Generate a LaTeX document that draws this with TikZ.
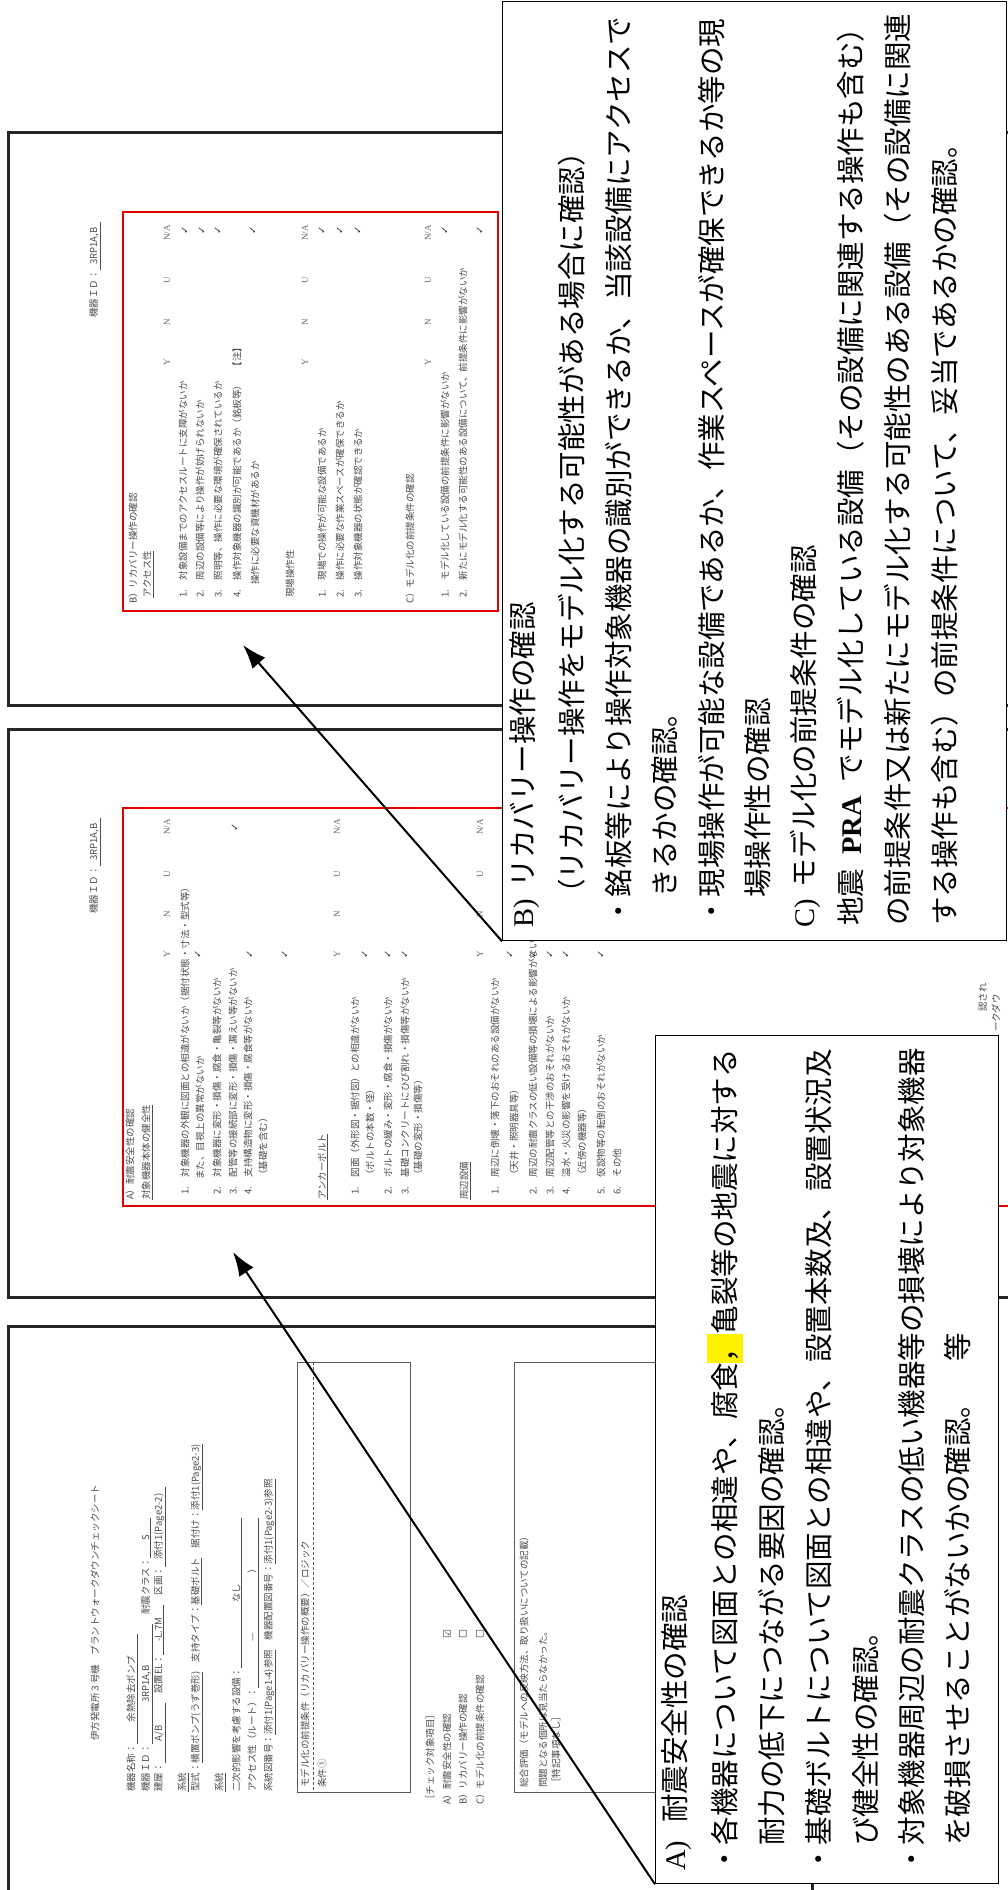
\documentclass[tikz,border=0pt]{standalone}
\usepackage{fontspec}
\setmainfont{Liberation Serif}
\newfontfamily\jp{Noto Sans CJK JP}
\newfontfamily\dv{DejaVu Sans}
\usetikzlibrary{arrows.meta}
\newcommand\fld[2]{\underline{\makebox[#1pt][c]{#2}}}
\newcommand\hlyel[1]{{\setlength{\fboxsep}{0pt}\colorbox{yellow}{\rule[-0.25em]{0pt}{1.25em}#1}}}
\begin{document}
\begin{tikzpicture}[x=1pt,y=-1pt,
  sheet/.style={draw=black!85,line width=2.6pt,fill=white,anchor=north west,inner sep=0pt},
  redbox/.style={draw=red!90!black,line width=2pt,anchor=north west,inner sep=0pt},
  callout/.style={draw=black,line width=1.3pt,fill=white,anchor=north west,inner sep=0pt},
  inbox/.style={draw=black!65,line width=0.8pt,anchor=north west,inner sep=0pt},
  ct/.style={rotate=90,anchor=west,inner sep=0pt,font=\jp\fontsize{28.5}{30}\selectfont},
  st/.style={rotate=90,anchor=west,inner sep=0pt,text=black!70,font=\jp\fontsize{9.5}{10}\selectfont},
  ck/.style={rotate=90,inner sep=0pt,text=black!80,font=\dv\fontsize{10}{10}\selectfont},
  hd/.style={rotate=90,inner sep=0pt,text=black!60,font=\fontsize{9}{10}\selectfont},
  arr/.style={-{Latex[length=24pt,width=17pt]},line width=2pt}
]
\useasboundingbox (0,0) rectangle (1008,1890);
\fill[white] (0,0) rectangle (1008,1890);

% ---------------- sheets ----------------
\node[sheet,minimum width=1010pt,minimum height=573pt] (sh3) at (7,131) {};
\node[sheet,minimum width=1010pt,minimum height=568pt] (sh2) at (7,728) {};
\node[sheet,minimum width=804pt,minimum height=600pt] (sh1) at (7,1325) {};

% ---- sheet 3 (B) ----
\node[redbox,minimum width=375pt,minimum height=399pt] (r3) at (122,211) {};
\foreach \xx/\yy/\tx [count=\i] in {
  95/318/{機器ＩＤ：\fld{48}{3RP1A,B}},
  133/604/{B）リカバリー操作の確認},
  148/598/{\underline{アクセス性}},
  183/598/{1.　対象設備までのアクセスルートに支障がないか},
  200/598/{2.　周辺の設備等により操作が妨げられないか},
  218/598/{3.　照明等、操作に必要な環境が確保されているか},
  237/598/{4.　操作対象機器の識別が可能であるか（銘板等）　【注】},
  255/585/{操作に必要な資機材があるか},
  290/598/{現場操作性},
  322/598/{1.　現場での操作が可能な設備であるか},
  340/598/{2.　操作に必要な作業スペースが確保できるか},
  358/598/{3.　操作対象機器の状態が確認できるか},
  410/604/{C）モデル化の前提条件の確認},
  445/598/{1.　モデル化している設備の前提条件に影響がないか},
  463/598/{2.　新たにモデル化する可能性のある設備について、前提条件に影響がないか}}
  {\node[st] (s3t\i) at (\xx,\yy) {\tx};}
\foreach \xx [count=\i] in {167,305,428}{
  \node[hd] (s3y\i) at (\xx,362) {Y};
  \node[hd] (s3n\i) at (\xx,322) {N};
  \node[hd] (s3u\i) at (\xx,280) {U};
  \node[hd] (s3a\i) at (\xx,233) {N/A};}
\foreach \xx [count=\i] in {185,202,218,253,322,340,358,445,480}
  {\node[ck] (s3c\i) at (\xx,230) {✓};}

% ---- sheet 2 (A) ----
\node[redbox,minimum width=900pt,minimum height=398pt] (r2) at (122,807) {};
\foreach \xx/\yy/\tx [count=\i] in {
  95/914/{機器ＩＤ：\fld{48}{3RP1A,B}},
  130/1200/{A）耐震安全性の確認},
  147/1200/{\underline{対象機器本体の健全性}},
  185/1195/{1.　対象機器の外観に図面との相違がないか（据付状態・寸法・型式等）},
  200/1180/{また、目視上の異常がないか},
  217/1195/{2.　対象機器に変形・損傷・腐食・亀裂等がないか},
  233/1195/{3.　配管等の接続部に変形・損傷・漏えい等がないか},
  248/1195/{4.　支持構造物に変形・損傷・腐食等がないか},
  263/1180/{（基礎を含む）},
  323/1200/{\underline{アンカーボルト}},
  355/1195/{1.　図面（外形図・据付図）との相違がないか},
  370/1180/{（ボルトの本数・径）},
  388/1195/{2.　ボルトの緩み・変形・腐食・損傷がないか},
  405/1195/{3.　基礎コンクリートにひび割れ・損傷等がないか},
  418/1180/{（基礎の変形・損傷等）},
  465/1200/{\underline{周辺設備}},
  495/1195/{1.　周辺に倒壊・落下のおそれのある設備がないか},
  514/1180/{（天井・照明器具等）},
  533/1195/{2.　周辺の耐震クラスの低い設備等の損壊による影響がないか},
  550/1195/{3.　周辺配管等との干渉のおそれがないか},
  566/1195/{4.　溢水・火災の影響を受けるおそれがないか},
  582/1180/{（近傍の機器等）},
  601/1195/{5.　仮設物等の転倒のおそれがないか},
  617/1195/{6.　その他},
  983/1012/{認され},
  996/1032/{ークダウ}}
  {\node[st] (s2t\i) at (\xx,\yy) {\tx};}
\foreach \xx [count=\i] in {167,337,480}{
  \node[hd] (s2y\i) at (\xx,954) {Y};
  \node[hd] (s2n\i) at (\xx,914) {N};
  \node[hd] (s2u\i) at (\xx,874) {U};
  \node[hd] (s2a\i) at (\xx,827) {N/A};}
\foreach \xx/\yy [count=\i] in {198/954,235/827,250/954,285/954,365/954,388/954,405/954,510/954,533/954,550/954,566/954,601/954}
  {\node[ck] (s2c\i) at (\xx,\yy) {✓};}

% ---- sheet 1 (cover) ----
\foreach \xx/\yy/\tx [count=\i] in {
  95/1741/{伊方発電所３号機　プラントウォークダウンチェックシート},
  132/1792/{機器名称：\fld{110}{余熱除去ポンプ}},
  147/1792/{機器ＩＤ：\fld{120}{3RP1A,B}　耐震クラス：\fld{40}{S}},
  160/1792/{建屋：\fld{60}{A/B}　設置EL：\fld{50}{-L.7M}　区画：\fld{80}{添付1(Page2-2)}},
  183/1792/{\underline{系統}},
  197/1792/{型式：\underline{横置ポンプ(うず巻形)}　支持タイプ：\underline{基礎ボルト}　据付け：\underline{添付1(Page2-3)}},
  220/1792/{\underline{系統}},
  237/1792/{二次的影響を考慮する設備：\fld{150}{なし}},
  253/1792/{アクセス性（ルート）：\fld{170}{—\hspace{60pt}）}},
  270/1792/{系統図番号：\underline{添付1(Page1-4)参照}　機器配置図番号：\underline{添付1(Page2-3)参照}},
  305/1788/{モデル化の前提条件（リカバリー操作の概要）／ロジック},
  322/1788/{条件①},
  430/1805/{［チェック対象項目］},
  447/1805/{A）耐震安全性の確認},
  463/1805/{B）リカバリー操作の確認},
  480/1805/{C）モデル化の前提条件の確認},
  524/1788/{総合評価（モデルへの反映方法、取り扱いについての記載）},
  543/1788/{問題となる個所は見当たらなかった。},
  556/1788/{［特記事項なし］}}
  {\node[st] (s1t\i) at (\xx,\yy) {\tx};}
\node[inbox,minimum width=113pt,minimum height=430pt] (b1) at (297,1362) {};
\draw[black!65,line width=0.8pt,densely dashed] (b1.north west) ++(16,0) coordinate (b1d) -- (b1d |- b1.south);
\node[inbox,minimum width=300pt,minimum height=430pt] (b2) at (514,1362) {};
\node[ck] (s1k1) at (447,1634) {☑};
\node[ck] (s1k2) at (463,1634) {☐};
\node[ck] (s1k3) at (480,1634) {☐};

% ---------------- arrows ----------------
\coordinate (t1) at (233,1252);
\coordinate (t2) at (243,645);
\node[callout,minimum width=343pt,minimum height=848pt] (boxA) at (655,1035) {};
\node[callout,minimum width=504pt,minimum height=939pt] (boxB) at (502,1) {};
\draw[arr] (boxA.south west) -- (t1);
\draw[arr] (boxB.south west) -- (t2);

% ---------------- callout A ----------------
\node[ct] (a1) at (677,1871) {{\rmfamily A)}\hspace{18pt}耐震安全性の確認};
\node[ct] (a2) at (725,1874) {・各機器について図面との相違や、腐食\hlyel{，}亀裂等の地震に対する};
\node[ct] (a3) at (772,1846) {耐力の低下につながる要因の確認。};
\node[ct] (a4) at (819,1874) {・基礎ボルトについて図面との相違や、設置本数及、設置状況及};
\node[ct] (a5) at (866,1846) {び健全性の確認。};
\node[ct] (a6) at (912,1874) {・対象機器周辺の耐震クラスの低い機器等の損壊により対象機器};
\node[ct] (a7) at (958,1846) {を破損させることがないかの確認。\hspace{28pt}等};

% ---------------- callout B ----------------
\node[ct] (b1t) at (525,928) {{\rmfamily B)}\hspace{12pt}リカバリー操作の確認};
\node[ct] (b2t) at (572,908) {（リカバリー操作をモデル化する可能性がある場合に確認）};
\node[ct] (b3t) at (619,926) {・銘板等により操作対象機器の識別ができるか、当該設備にアクセスで};
\node[ct] (b4t) at (665,898) {きるかの確認。};
\node[ct] (b5t) at (712,926) {・現場操作が可能な設備であるか、作業スペースが確保できるか等の現};
\node[ct] (b6t) at (758,898) {場操作性の確認};
\node[ct] (b7t) at (805,928) {{\rmfamily C)}\hspace{12pt}モデル化の前提条件の確認};
\node[ct] (b8t) at (851,926) {地震\hspace{14pt}{\rmfamily\bfseries PRA}\hspace{14pt}でモデル化している設備（その設備に関連する操作も含む）};
\node[ct] (b9t) at (898,926) {の前提条件又は新たにモデル化する可能性のある設備（その設備に関連};
\node[ct] (b10t) at (945,926) {する操作も含む）の前提条件について、妥当であるかの確認。};
\end{tikzpicture}
\end{document}
